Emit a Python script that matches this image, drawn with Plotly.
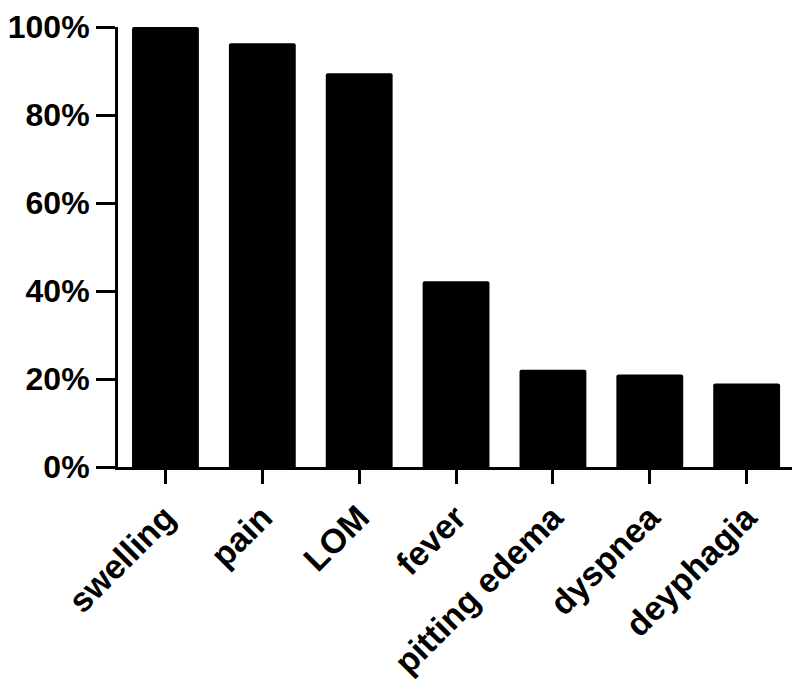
import plotly.graph_objects as go

# Dados
symptoms = ['swelling', 'pain', 'LOM', 'fever', 'pitting edema', 'dyspnea', 'deyphagia']
percent = [100.0, 96.3, 89.5, 42.2, 22.1, 21.0, 19.0]
y_ticks = [0, 20, 40, 60, 80, 100]
y_labels = [f"{v}%" for v in y_ticks]

font_y = dict(family="Arial, Liberation Sans, sans-serif", size=32, color="black", weight="bold")
font_x = dict(family="Arial, Liberation Sans, sans-serif", size=34, color="black", weight="bold")

fig = go.Figure()

fig.add_trace(go.Bar(
    x=symptoms,
    y=percent,
    marker=dict(color='black', line=dict(width=0), cornerradius=2),
    width=0.69,
))

# a página tem margem de 8px no body, por isso a figura é um pouco menor
fig.update_layout(
    width=792,
    height=688,
    margin=dict(l=110, r=2, t=19, b=229),
    plot_bgcolor='white',
    paper_bgcolor='white',
    showlegend=False,
    xaxis=dict(
        range=[-0.49, 6.53],
        automargin=False,
        showline=True, linecolor='black', linewidth=3,
        ticks='outside', ticklen=14, tickwidth=3, tickcolor='black',
        tickangle=-45,
        tickfont=font_x,
        ticklabeloverflow='allow',
        showgrid=False,
        zeroline=False,
    ),
    yaxis=dict(
        range=[0, 100],
        automargin=False,
        tickmode='array',
        tickvals=y_ticks,
        ticktext=y_labels,
        showline=True, linecolor='black', linewidth=3,
        ticks='outside', ticklen=19, tickwidth=3, tickcolor='black',
        tickfont=font_y,
        ticklabeloverflow='allow',
        showgrid=False,
        zeroline=False,
    ),
)

fig.write_html("out.html")
